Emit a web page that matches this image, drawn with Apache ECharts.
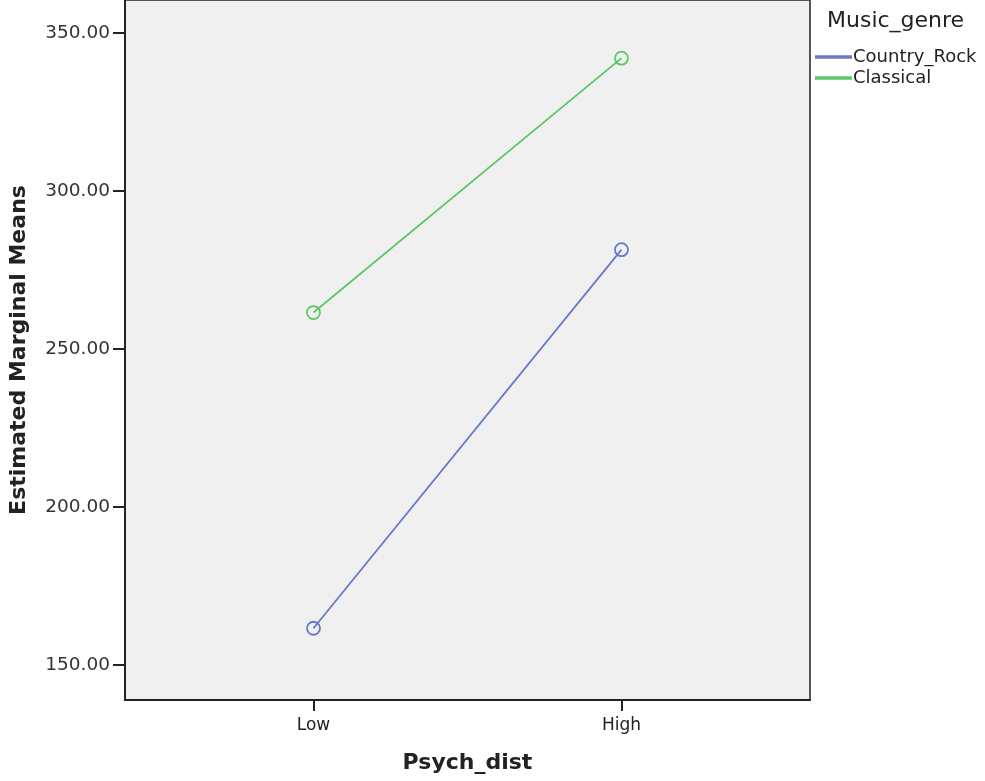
<!DOCTYPE html>
<html>
<head>
<meta charset="utf-8">
<script src="https://cdn.jsdelivr.net/npm/echarts@6/dist/echarts.min.js"></script>
<style>html,body{margin:0;padding:0;background:#fff;}#c{width:985px;height:781px;}</style>
</head>
<body>
<div id="c"></div>
<script>
var categories = ['Low', 'High'];
var countryRock = [161.7, 281.5];
var classical = [261.6, 342.1];
var yTicks = [150, 200, 250, 300, 350];
var seriesNames = ['Country_Rock', 'Classical'];

var FONT = 'DejaVu Sans';
var chart = echarts.init(document.getElementById('c'));
function pts(arr){ return arr.map(function(v,i){ return [i, v]; }); }
chart.setOption({
  animation: false,
  backgroundColor: '#fff',
  textStyle: { fontFamily: FONT },
  title: {
    text: 'Music_genre', left: 822, top: 5,
    textStyle: { fontFamily: FONT, fontSize: 22, fontWeight: 'normal', color: '#222' }
  },
  legend: {
    orient: 'vertical', left: 810, top: 43, itemGap: 3,
    icon: 'rect', itemWidth: 35, itemHeight: 1.5,
    data: seriesNames,
    textStyle: { fontFamily: FONT, fontSize: 18, color: '#222', padding: [0,0,0,-3] }
  },
  grid: {
    left: 123, right: 175, top: 0, bottom: 81,
    show: true, backgroundColor: '#f0f0f0', borderColor: '#222', borderWidth: 1.5
  },
  xAxis: {
    type: 'value', min: -0.612, max: 1.612,
    name: 'Psych_dist', nameLocation: 'middle', nameGap: 52,
    nameTextStyle: { fontFamily: FONT, fontSize: 22, fontWeight: 'bold', color: '#222' },
    axisLine: { show: true, onZero: false, lineStyle: { color: '#222', width: 2 } },
    axisTick: { show: true, length: 11, lineStyle: { color: '#222', width: 2 }, customValues: [0, 1] },
    axisLabel: { customValues: [0, 1], margin: 17, fontFamily: FONT, fontSize: 17, color: '#222',
      formatter: function(v){ return categories[Math.round(v)]; } },
    splitLine: { show: false }
  },
  yAxis: {
    type: 'value', min: 139, max: 360.5,
    name: 'Estimated Marginal Means', nameLocation: 'middle', nameGap: 95,
    nameTextStyle: { fontFamily: FONT, fontSize: 22, fontWeight: 'bold', color: '#222' },
    axisLine: { show: true, onZero: false, lineStyle: { color: '#222', width: 2 } },
    axisTick: { show: true, length: 12, lineStyle: { color: '#222', width: 2 }, customValues: yTicks },
    axisLabel: { customValues: yTicks, margin: 15, fontFamily: FONT, fontSize: 18.5, color: '#333',
      formatter: function(v){ return v.toFixed(2); } },
    splitLine: { show: false }
  },
  series: [
    { name: seriesNames[0], type: 'line', data: pts(countryRock),
      symbol: 'circle', symbolSize: 13,
      lineStyle: { color: '#6878cc', width: 1.8 },
      itemStyle: { color: 'transparent', borderColor: '#6878cc', borderWidth: 1.8 } },
    { name: seriesNames[1], type: 'line', data: pts(classical),
      symbol: 'circle', symbolSize: 13,
      lineStyle: { color: '#5cc868', width: 1.8 },
      itemStyle: { color: 'transparent', borderColor: '#5cc868', borderWidth: 1.8 } }
  ]
});
</script>
</body>
</html>
